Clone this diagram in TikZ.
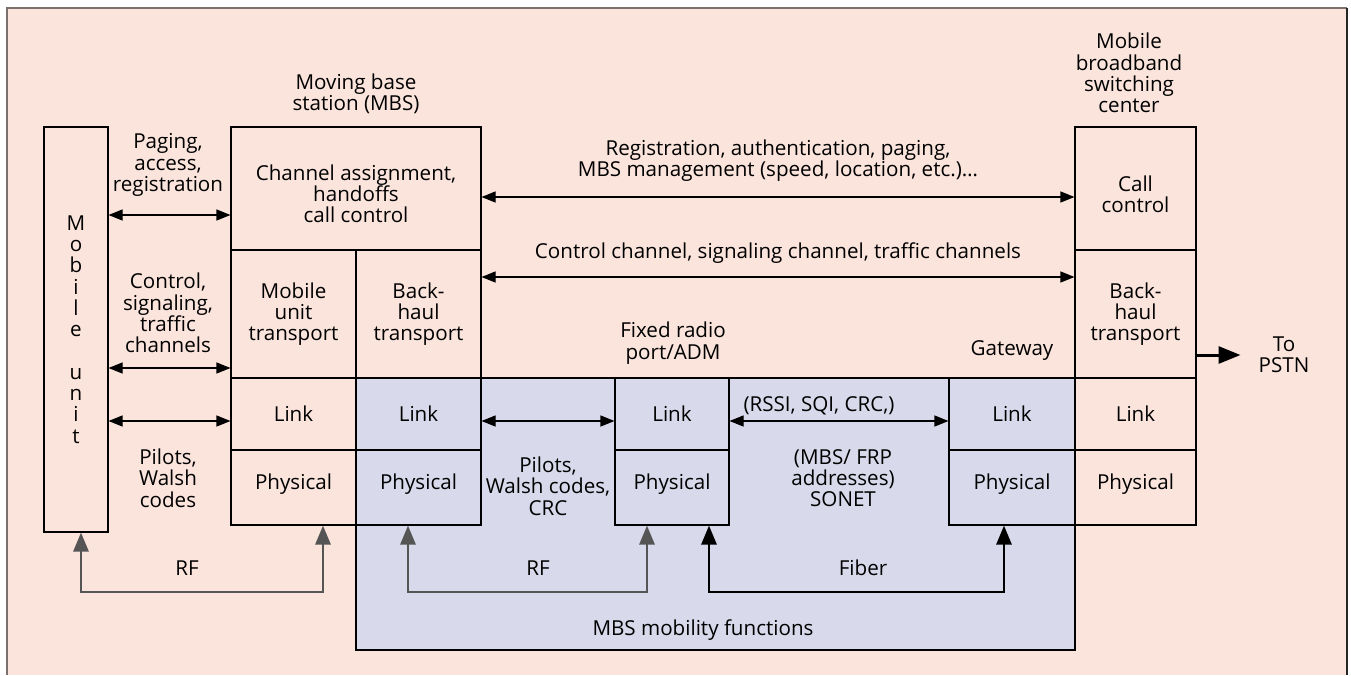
\documentclass[tikz,border=0pt]{standalone}
\usepackage{fontspec}
\setmainfont{Open Sans}
\usetikzlibrary{arrows.meta}
\definecolor{bgpink}{RGB}{250,228,220}
\definecolor{mobblue}{RGB}{216,217,234}
\definecolor{rfgray}{RGB}{85,85,85}
\definecolor{framegray}{RGB}{122,112,108}
\begin{document}
\begin{tikzpicture}[x=1pt,y=-1pt,
  font=\fontsize{20.6}{21.3}\selectfont,
  box/.style={draw, line width=1.1pt, inner sep=0pt, align=center},
  hightext/.style={text depth=11pt},
  txt/.style={align=center, inner sep=0pt},
  dbl/.style={line width=1.1pt, {Triangle[length=14pt,width=11pt]}-{Triangle[length=14pt,width=11pt]}},
  rfline/.style={rfgray, line width=2.8pt, {Triangle[length=19pt,width=15pt]}-{Triangle[length=19pt,width=15pt]}},
  fibline/.style={black, line width=2.8pt, {Triangle[length=19pt,width=15pt]}-{Triangle[length=19pt,width=15pt]}},
  pstnline/.style={black, line width=3pt, -{Triangle[length=22pt,width=17pt]}}
]
\useasboundingbox (0,0) rectangle (1351,675);
\fill[bgpink] (7,8) rectangle (1347,675);
\draw[framegray, line width=2pt] (7,675) -- (7,8) -- (1347,8);
\draw[black!85, line width=1.5pt] (1347,8) -- (1347,675);

% mobility region
\node[box, fill=mobblue, minimum width=719pt, minimum height=272pt] (mob) at (715.5,514) {};

% mobile unit
\node[box, minimum width=64pt, minimum height=405pt] (mu) at (76,329.5) {M\\o\\b\\i\\l\\e\\[21.3pt]u\\n\\i\\t};

% moving base station
\node[box, text height=69pt, minimum width=250pt, minimum height=123pt] (cc) at (356,188.5) {Channel assignment,\\handoffs\\call control};
\node[box, minimum width=125pt, minimum height=128pt] (mut) at (293.5,314) {Mobile\\unit\\transport};
\node[box, minimum width=125pt, minimum height=128pt] (bht) at (418.5,314) {Back-\\haul\\transport};
\node[box, minimum width=125pt, minimum height=72pt] (ml1) at (293.5,414) {Link};
\node[box, hightext, minimum width=125pt, minimum height=75pt] (mp1) at (293.5,487.5) {Physical};
\node[box, minimum width=125pt, minimum height=72pt] (ml2) at (418.5,414) {Link};
\node[box, hightext, minimum width=125pt, minimum height=75pt] (mp2) at (418.5,487.5) {Physical};

% fixed radio port
\node[box, minimum width=114pt, minimum height=72pt] (fl) at (672,414) {Link};
\node[box, hightext, minimum width=114pt, minimum height=75pt] (fp) at (672,487.5) {Physical};

% gateway
\node[box, minimum width=126pt, minimum height=72pt] (gl) at (1012,414) {Link};
\node[box, hightext, minimum width=126pt, minimum height=75pt] (gp) at (1012,487.5) {Physical};

% switching center
\node[box, text height=48pt, minimum width=121pt, minimum height=123pt] (mcc) at (1135.5,188.5) {Call\\control};
\node[box, minimum width=121pt, minimum height=128pt] (mbh) at (1135.5,314) {Back-\\haul\\transport};
\node[box, minimum width=121pt, minimum height=72pt] (mlk) at (1135.5,414) {Link};
\node[box, hightext, minimum width=121pt, minimum height=75pt] (mph) at (1135.5,487.5) {Physical};

% titles and labels
\node[txt] (tmbs) at (356,94) {Moving base\\station (MBS)};
\node[txt] (tmbsc) at (1129,73) {Mobile\\broadband\\switching\\center};
\node[txt] (tpag) at (168,165) {Paging,\\access,\\registration};
\node[txt] (treg) at (778,160.5) {Registration, authentication, paging,\\MBS management (speed, location, etc.)…};
\node[txt] (tctl) at (778,253) {Control channel, signaling channel, traffic channels};
\node[txt] (tcsig) at (168,313) {Control,\\signaling,\\traffic\\channels};
\node[txt] (tfrp) at (673,343) {Fixed radio\\port/ADM};
\node[txt] (tgw) at (1012,351) {Gateway};
\node[txt] (tpw1) at (168,478) {Pilots,\\Walsh\\codes};
\node[txt] (tpw2) at (548,486) {Pilots,\\Walsh codes,\\CRC};
\node[txt] (trssi) at (819,406) {(RSSI, SQI, CRC,)};
\node[txt] (tsonet) at (843,478) {(MBS/ FRP\\addresses)\\SONET};
\node[txt] (trf1) at (187,568) {RF};
\node[txt] (trf2) at (538,568) {RF};
\node[txt] (tfib) at (863,568) {Fiber};
\node[txt] (tmob) at (703,630) {MBS mobility functions};
\node[txt] (tpstn) at (1284,355) {To\\PSTN};

% horizontal levels
\coordinate (yPg) at (0,215);
\coordinate (yCs) at (0,368);
\coordinate (yLk) at (0,421);
\coordinate (yReg) at (0,197);
\coordinate (yCtl) at (0,277);
\coordinate (yRF) at (0,592);

\draw[dbl] (mu.east |- yPg) -- (cc.west |- yPg);
\draw[dbl] (mu.east |- yCs) -- (mut.west |- yCs);
\draw[dbl] (mu.east |- yLk) -- (ml1.west |- yLk);
\draw[dbl] (cc.east |- yReg) -- (mcc.west |- yReg);
\draw[dbl] (bht.east |- yCtl) -- (mbh.west |- yCtl);
\draw[dbl] (ml2.east |- yLk) -- (fl.west |- yLk);
\draw[dbl] (fl.east |- yLk) -- (gl.west |- yLk);

\draw[pstnline] (mbh.east |- tpstn) -- ([xshift=-18pt]tpstn.west);

% RF / fiber links
\coordinate (a1) at ([xshift=5pt]mu.south);
\coordinate (b1) at ([xshift=29.5pt]mp1.south);
\draw[rfline] (a1) -- (a1 |- yRF) -- (b1 |- yRF) -- (b1);
\coordinate (a2) at ([xshift=-10.5pt]mp2.south);
\coordinate (b2) at ([xshift=-25pt]fp.south);
\draw[rfline] (a2) -- (a2 |- yRF) -- (b2 |- yRF) -- (b2);
\coordinate (a3) at ([xshift=37pt]fp.south);
\coordinate (b3) at ([xshift=-8pt]gp.south);
\draw[fibline] (a3) -- (a3 |- yRF) -- (b3 |- yRF) -- (b3);
\end{tikzpicture}
\end{document}
